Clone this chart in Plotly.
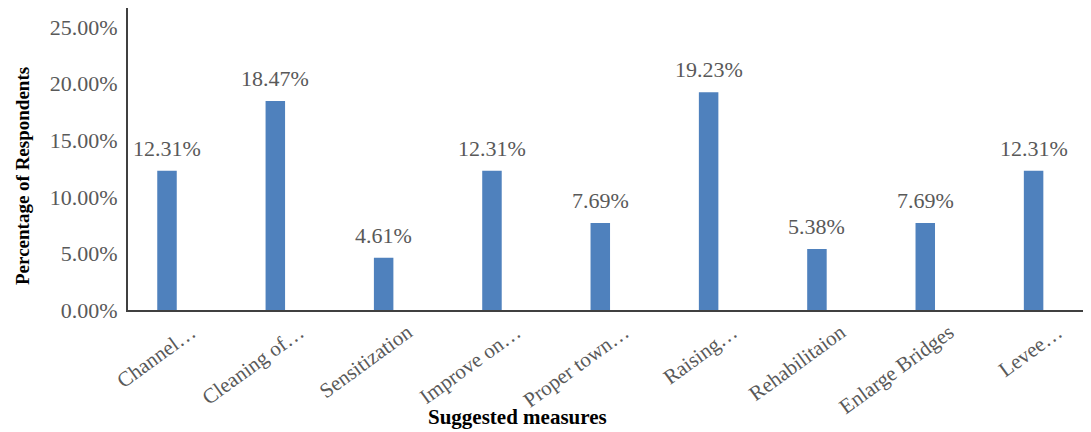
import plotly.graph_objects as go

categories = ["Channel…", "Cleaning of…", "Sensitization", "Improve on…", "Proper town…",
              "Raising…", "Rehabilitaion", "Enlarge Bridges", "Levee…"]
values = [12.31, 18.47, 4.61, 12.31, 7.69, 19.23, 5.38, 7.69, 12.31]
labels = ["12.31%", "18.47%", "4.61%", "12.31%", "7.69%", "19.23%", "5.38%", "7.69%", "12.31%"]
y_ticks = [0, 5, 10, 15, 20, 25]
y_tick_text = ["0.00%", "5.00%", "10.00%", "15.00%", "20.00%", "25.00%"]
x_title = "Suggested measures"
y_title = "Percentage of Respondents"

serif = "Liberation Serif"
grey = "#595959"

# page body has an 8px offset; figure coords = screen coords - 8
fig = go.Figure()
fig.add_trace(go.Bar(
    x=list(range(len(categories))), y=values,
    marker=dict(color="#4F81BD", line=dict(width=0)),
    width=0.18, hoverinfo="skip",
))
for i, (v, t) in enumerate(zip(values, labels)):
    fig.add_annotation(x=i, y=v, text=t, showarrow=False, yanchor="bottom",
                       yshift=8, font=dict(family=serif, size=22, color=grey))

fig.add_annotation(xref="paper", yref="paper", x=0, y=0.5, xanchor="center", yanchor="middle",
                   xshift=-106, yshift=-17, textangle=-90, showarrow=False,
                   text="<b>" + y_title + "</b>", font=dict(family=serif, size=19, color="black"))
fig.add_annotation(xref="paper", yref="paper", x=0.5, y=0, xanchor="center", yanchor="middle",
                   xshift=-92, yshift=-107, showarrow=False,
                   text="<b>" + x_title + "</b>", font=dict(family=serif, size=21, color="black"))

fig.update_layout(
    width=1083, height=424,
    margin=dict(l=120, r=0, t=0, b=122, autoexpand=False),
    plot_bgcolor="white", paper_bgcolor="white",
    showlegend=False,
    xaxis=dict(
        tickmode="array", tickvals=list(range(len(categories))), ticktext=categories,
        range=[-0.36, 8.53], tickangle=-36, showline=True, linecolor="#404040", linewidth=2,
        showgrid=False, zeroline=False, ticks="", ticklabelshift=24, automargin=False,
        tickfont=dict(family=serif, size=21, color=grey),
    ),
    yaxis=dict(
        tickmode="array", tickvals=y_ticks, ticktext=y_tick_text, range=[0, 26.68],
        showline=True, linecolor="#404040", linewidth=2, showgrid=False, zeroline=False,
        ticks="", ticklabelstandoff=4, automargin=False,
        tickfont=dict(family=serif, size=22, color=grey),
    ),
)
fig.write_html("out.html")
